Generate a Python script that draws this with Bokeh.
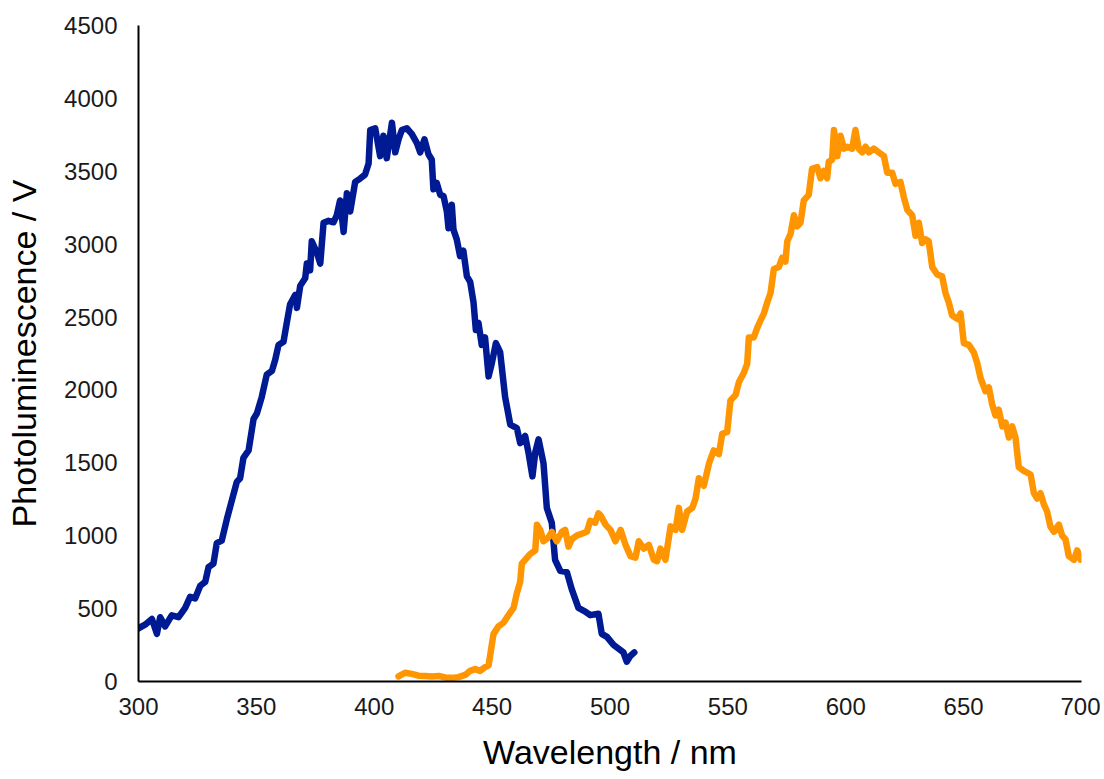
from bokeh.plotting import figure
from bokeh.models import Range1d, FixedTicker
from bokeh.embed import file_html
from bokeh.resources import INLINE

# Blue spectrum (wavelength nm, photoluminescence V)
blue_x = [300, 302.8, 305.7, 307.8, 309.2, 311.3, 314.1, 317, 319.8, 321.9, 324, 326.2, 328.3, 329.7, 331.8,
          333.2, 335.3, 337.5, 339.6, 341.7, 343.1, 344.5, 346.7, 348.8, 350.2, 352.3, 354.4, 356.6, 358,
          359.4, 361.5, 362.9, 364.3, 366.5, 367.2, 368.6, 370.7, 371.4, 372.8, 373.5, 375.6, 377.1, 378.5,
          380.6, 382.7, 384.1, 385.5, 387, 388.4, 389.8, 391.9, 394, 396.1, 397.6, 398.3, 400.4, 402.5,
          403.9, 405.3, 407.5, 408.9, 410.3, 411.7, 413.8, 415.9, 418.1, 419.5, 421.3, 423, 424.4, 425.1,
          426.5, 428, 429.4, 430.8, 431.5, 432.9, 433.6, 435, 436.4, 437.8, 439.3, 440.7, 442.1, 443.1,
          444.2, 445.6, 447, 448.5, 449.9, 451.6, 453.4, 455.5, 457.7, 460.5, 461.9, 464, 465.4, 467.1,
          468.3, 469.7, 471.8, 473.2, 475.3, 476.7, 478.9, 481.7, 483.8, 486.6, 489.5, 491.6, 495.1, 496.5,
          498.7, 501.5, 503.6, 505.7, 507.1, 508.6, 510.3]
blue_y = [365, 390, 429, 327, 441, 378, 454, 441, 505, 581, 570, 657, 683, 784, 809,
          949, 966, 1115, 1242, 1369, 1394, 1534, 1585, 1801, 1838, 1953, 2105, 2131, 2207,
          2309, 2330, 2461, 2588, 2652, 2563, 2715, 2766, 2867, 2820, 3020, 2944, 2867, 3147,
          3160, 3150, 3198, 3300, 3084, 3350, 3224, 3427, 3450, 3477, 3553, 3783, 3795, 3604,
          3744, 3590, 3833, 3630, 3719, 3783, 3795, 3757, 3693, 3630, 3719, 3617, 3579, 3376,
          3420, 3338, 3330, 3224, 3109, 3270, 3100, 3033, 2918, 2955, 2779, 2741, 2601, 2411,
          2461, 2309, 2360, 2093, 2185, 2321, 2260, 1953, 1762, 1738, 1635, 1685, 1572, 1407,
          1572, 1661, 1496, 1191, 1089, 835, 759, 750, 632, 505, 480, 455, 465, 327,
          306, 251, 226, 200, 136, 175, 200]

# Orange spectrum
orange_x = [410.3, 413.1, 415.9, 418.8, 421.6, 424.4, 427.3, 430.1, 432.9, 435.7, 438.6, 440.7, 442.8, 444.9,
            447, 448.5, 449.6, 450.6, 452.7, 454.8, 456.9, 459.1, 460.5, 461.9, 462.6, 464, 466.1, 468.3,
            469, 470.4, 471.8, 473.9, 475.3, 477.4, 479.6, 481, 482.4, 483.8, 485.9, 488, 490.2, 491.6,
            493.7, 495.1, 496, 498.1, 500.2, 502.3, 504.5, 506.6, 508.7, 510.8, 512.2, 514.4, 516.5, 518.6,
            520, 521.4, 523.5, 525.7, 527.8, 529.2, 530.6, 532.7, 534.9, 536.3, 537.7, 539.8, 542, 544,
            546.2, 547.6, 549.7, 551.1, 553.3, 554.7, 556.8, 558.2, 558.9, 561, 562.4, 563.8, 565.3, 566.7,
            568.1, 569.5, 571.6, 573, 574.4, 575.2, 576.6, 578, 579.4, 580.8, 582.2, 584.3, 585.7, 587.9,
            589.3, 590.7, 592.1, 592.8, 594.2, 595, 596.4, 597.8, 599.2, 600.6, 602.7, 604.1, 605.5, 607,
            608.4, 609.8, 611.9, 614, 616.2, 617.6, 619.7, 621.1, 623.2, 624.6, 626.1, 628.2, 629.6, 631,
            632.4, 633.9, 635.2, 636.7, 638.8, 640.9, 642.3, 643.7, 645.1, 647.3, 648.7, 650.1, 652.2, 654.3,
            655.8, 657.2, 659.3, 660.7, 662.1, 663.5, 664.9, 666.4, 667.8, 669.2, 670.6, 672, 673.4, 675.5,
            678.4, 679.8, 681.2, 682.6, 684, 685.4, 686.8, 688.3, 690.4, 691.8, 693.2, 694.6, 696.8, 698.2,
            699.6]
orange_y = [35, 60, 52, 40, 38, 35, 38, 28, 25, 30, 45, 73, 85, 73,
            98, 111, 225, 327, 378, 403, 454, 505, 606, 683, 809, 835, 874, 899,
            1076, 1040, 962, 988, 1027, 962, 1027, 1040, 925, 976, 1001, 1014, 1027, 1102,
            1089, 1153, 1140, 1076, 1040, 962, 1040, 937, 860, 850, 962, 912, 937, 835,
            825, 912, 835, 1064, 1040, 1191, 1040, 1166, 1191, 1255, 1394, 1343, 1496, 1585,
            1560, 1699, 1712, 1928, 1966, 2055, 2118, 2181, 2360, 2360, 2424, 2475, 2525, 2601,
            2665, 2830, 2843, 2906, 2880, 3020, 3071, 3198, 3122, 3147, 3300, 3338, 3516, 3528,
            3452, 3503, 3452, 3567, 3579, 3783, 3604, 3744, 3655, 3668, 3655, 3783, 3655, 3630,
            3668, 3630, 3655, 3630, 3604, 3490, 3490, 3414, 3427, 3325, 3236, 3198, 3058, 3147,
            3008, 3033, 3020, 2842, 2792, 2779, 2665, 2601, 2512, 2487, 2525, 2321, 2309, 2258,
            2181, 2080, 1991, 2017, 1902, 1826, 1864, 1750, 1775, 1674, 1750, 1674, 1470, 1445,
            1420, 1292, 1255, 1292, 1217, 1166, 1064, 1027, 1076, 1001, 976, 861, 835, 899,
            835]

x_ticks = [300, 350, 400, 450, 500, 550, 600, 650, 700]
y_ticks = [0, 500, 1000, 1500, 2000, 2500, 3000, 3500, 4000, 4500]

FONT = "Liberation Sans"

p = figure(width=1100, height=779, output_backend="svg", toolbar_location=None,
           x_range=Range1d(300, 700), y_range=Range1d(0, 4500),
           min_border_left=138, min_border_right=19, min_border_top=25, min_border_bottom=98)
p.outline_line_color = None
p.xgrid.grid_line_color = None
p.ygrid.grid_line_color = None

p.line(blue_x, blue_y, line_color="#001A94", line_width=6.5, line_join="round", line_cap="round")
p.line(orange_x, orange_y, line_color="#FF9500", line_width=6.5, line_join="round", line_cap="round")

for ax in (p.xaxis[0], p.yaxis[0]):
    ax.major_tick_line_color = None
    ax.minor_tick_line_color = None
    ax.major_tick_out = 0
    ax.major_tick_in = 0
    ax.minor_tick_out = 0
    ax.minor_tick_in = 0
    ax.axis_line_color = "black"
    ax.axis_line_width = 2
    ax.major_label_text_font = FONT
    ax.major_label_text_font_size = "24px"
    ax.major_label_text_color = "#1a1a1a"
    ax.axis_label_text_font = FONT
    ax.axis_label_text_font_size = "34px"
    ax.axis_label_text_font_style = "normal"
    ax.axis_label_text_color = "black"

p.xaxis[0].ticker = FixedTicker(ticks=x_ticks)
p.yaxis[0].ticker = FixedTicker(ticks=y_ticks)
p.xaxis.axis_label = "Wavelength / nm"
p.yaxis.axis_label = "Photoluminescence / V"
p.xaxis.major_label_standoff = 16
p.yaxis.major_label_standoff = 21
p.xaxis.axis_label_standoff = 15
p.yaxis.axis_label_standoff = 18

open("out.html", "w").write(file_html(p, INLINE))
